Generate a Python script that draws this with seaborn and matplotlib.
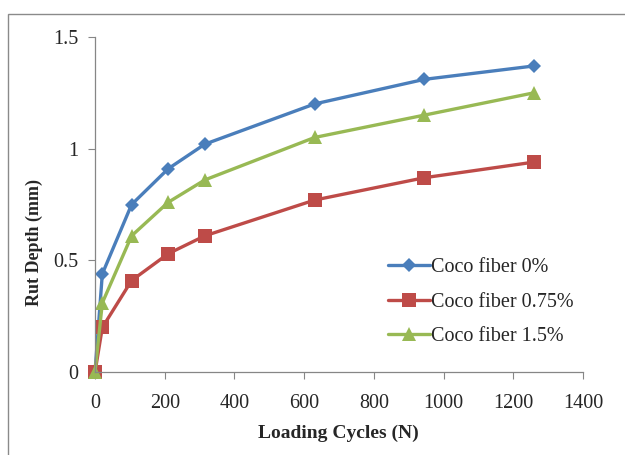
import matplotlib
matplotlib.use("Agg")
import matplotlib.pyplot as plt
import seaborn as sns
import pandas as pd
from matplotlib.patches import Rectangle

cycles = [0, 21, 105, 210, 315, 630, 945, 1260]
rut_0 = [0, 0.44, 0.75, 0.91, 1.02, 1.20, 1.31, 1.37]
rut_075 = [0, 0.20, 0.41, 0.53, 0.61, 0.77, 0.87, 0.94]
rut_15 = [0, 0.31, 0.61, 0.76, 0.86, 1.05, 1.15, 1.25]
series_names = ["Coco fiber 0%", "Coco fiber 0.75%", "Coco fiber 1.5%"]
x_ticks = [0, 200, 400, 600, 800, 1000, 1200, 1400]
y_ticks = [0, 0.5, 1, 1.5]
y_tick_labels = ["0", "0.5", "1", "1.5"]

rows = []
for name, vals in zip(series_names, [rut_0, rut_075, rut_15]):
    for c, v in zip(cycles, vals):
        rows.append({"Loading Cycles (N)": c, "Rut Depth (mm)": v, "series": name})
df = pd.DataFrame(rows)

sns.set_theme(style="white")
plt.rcParams["font.family"] = ["Liberation Serif", "DejaVu Serif"]

fig = plt.figure(figsize=(6.25, 4.55), dpi=100)
ax = fig.add_axes([0.152, 0.182, 0.781, 0.737])

palette = {"Coco fiber 0%": "#4A7EBB",
           "Coco fiber 0.75%": "#BE4B48",
           "Coco fiber 1.5%": "#98B954"}
markers = {"Coco fiber 0%": "D",
           "Coco fiber 0.75%": "s",
           "Coco fiber 1.5%": "^"}
sizes = {"Coco fiber 0%": 7.5, "Coco fiber 0.75%": 10.5, "Coco fiber 1.5%": 10.5}

for name in series_names:
    sub = df[df["series"] == name]
    sns.lineplot(data=sub, x="Loading Cycles (N)", y="Rut Depth (mm)", ax=ax,
                 color=palette[name], marker=markers[name], markersize=sizes[name],
                 markeredgewidth=0, linewidth=2.4, label=name, clip_on=False)

ax.set_xlim(0, 1400)
ax.set_ylim(0, 1.5)
ax.set_xticks(x_ticks)
ax.set_yticks(y_ticks)
ax.set_xticklabels([str(t) for t in x_ticks])
ax.set_yticklabels(y_tick_labels)
ax.tick_params(axis="both", which="major", direction="out", length=5, width=0.8,
               color="#868686", labelsize=14.5, left=True, bottom=True)
ax.tick_params(axis="x", pad=11)
ax.tick_params(axis="y", pad=7)

for side in ["top", "right"]:
    ax.spines[side].set_visible(False)
for side in ["left", "bottom"]:
    ax.spines[side].set_color("#868686")
    ax.spines[side].set_linewidth(0.9)

ax.set_xlabel("Loading Cycles (N)", fontsize=14, fontweight="bold")
ax.set_ylabel("Rut Depth (mm)", fontsize=13, fontweight="bold")
ax.xaxis.set_label_coords(0.498, -0.157)
ax.yaxis.set_label_coords(-0.107, 0.388)

leg = ax.legend(loc="upper left", bbox_to_anchor=(0.6, 0.34), frameon=False,
                fontsize=14.5, handlelength=2.1, handletextpad=0.05,
                labelspacing=0.77, borderaxespad=0, borderpad=0)

# outer chart frame
fig.patches.append(Rectangle((8 / 625, -0.1), 1.2, 1 - 14 / 455 + 0.1,
                             transform=fig.transFigure, fill=False,
                             edgecolor="#8a8a8a", linewidth=1.0))

fig.savefig("out.png", dpi=100)
